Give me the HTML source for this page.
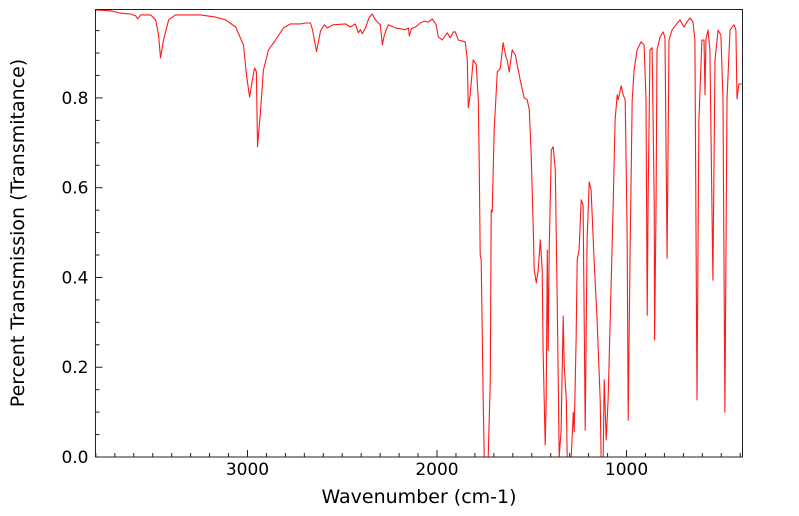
<!DOCTYPE html>
<html><head><meta charset="utf-8"><style>
body{margin:0;background:#fff;}
svg{display:block;font-family:"DejaVu Sans","Liberation Sans",sans-serif;}
</style></head><body>
<svg id="chart" width="799" height="516" viewBox="0 0 799 516">
<g id="ticks"></g>
<clipPath id="clip"><rect x="95.5" y="9.5" width="647" height="447.5"/></clipPath>
<polyline id="spectrum" fill="none" stroke="#ff1a1a" stroke-width="1.1" stroke-linejoin="round" clip-path="url(#clip)"/>
<rect x="95.5" y="9.5" width="647" height="447.5" fill="none" stroke="#222" stroke-width="1"/>
<text x="419" y="503" font-size="19" text-anchor="middle">Wavenumber (cm-1)</text>
<text transform="translate(24,233) rotate(-90)" font-size="19" text-anchor="middle">Percent Transmission (Transmitance)</text>
</svg>
<script>
const wavenumbers=[3801,3722,3670,3617,3590,3580,3564,3511,3485,3469,3459,3443,3416,3380,3248,3169,3116,3063,3021,3005,2989,2974,2963,2953,2947,2931,2916,2889,2852,2810,2773,2721,2694,2668,2657,2636,2615,2594,2579,2547,2483,2457,2431,2415,2404,2394,2378,2357,2341,2331,2315,2299,2288,2278,2257,2220,2167,2151,2146,2135,2114,2088,2067,2046,2025,2004,1993,1972,1946,1930,1914,1903,1888,1851,1840,1835,1825,1814,1809,1793,1782,1777,1772,1767,1756,1751,1730,1719,1714,1709,1698,1682,1666,1651,1635,1630,1619,1603,1587,1561,1540,1524,1513,1503,1492,1487,1476,1466,1455,1445,1440,1429,1424,1418,1413,1408,1397,1387,1376,1366,1355,1345,1334,1329,1318,1313,1292,1281,1276,1266,1260,1250,1239,1229,1223,1218,1208,1197,1187,1171,1155,1139,1134,1123,1118,1107,1097,1086,1070,1060,1049,1044,1028,1018,1007,997,991,981,970,960,944,923,907,897,891,886,876,865,854,852,844,839,823,807,797,786,776,760,739,718,697,681,665,649,639,628,618,602,591,586,581,570,560,544,533,517,502,491,481,470,454,433,423,417,407,391];
const transmittance=[0.996,0.994,0.989,0.987,0.983,0.976,0.985,0.985,0.974,0.940,0.889,0.929,0.974,0.985,0.985,0.980,0.974,0.958,0.918,0.851,0.802,0.840,0.867,0.858,0.691,0.773,0.862,0.907,0.929,0.956,0.965,0.965,0.967,0.967,0.952,0.903,0.949,0.963,0.956,0.963,0.965,0.958,0.965,0.945,0.952,0.943,0.956,0.980,0.987,0.978,0.969,0.963,0.918,0.940,0.963,0.956,0.952,0.956,0.938,0.954,0.958,0.967,0.971,0.969,0.976,0.963,0.936,0.929,0.945,0.934,0.947,0.947,0.929,0.925,0.885,0.778,0.807,0.862,0.885,0.874,0.796,0.640,0.450,0.439,0.127,0,0,0.172,0.550,0.546,0.729,0.858,0.866,0.923,0.889,0.885,0.858,0.907,0.896,0.840,0.800,0.796,0.773,0.673,0.506,0.417,0.388,0.417,0.484,0.417,0.238,0.027,0.127,0.461,0.238,0.461,0.684,0.691,0.640,0.350,0,0.060,0.314,0.205,0.127,0,0,0.100,0.056,0.261,0.439,0.461,0.573,0.561,0.283,0.060,0.484,0.613,0.595,0.439,0.305,0.127,0,0,0.172,0.038,0.127,0.305,0.573,0.751,0.807,0.796,0.827,0.807,0.796,0.506,0.082,0.461,0.796,0.862,0.907,0.925,0.918,0.796,0.316,0.573,0.907,0.912,0.573,0.261,0.573,0.907,0.936,0.947,0.934,0.443,0.929,0.951,0.963,0.974,0.958,0.969,0.978,0.969,0.929,0.127,0.751,0.929,0.929,0.807,0.929,0.951,0.907,0.394,0.885,0.951,0.940,0.796,0.100,0.796,0.951,0.963,0.951,0.798,0.831,0.831];
const xTickLabels=[3000,2000,1000];
const yTickLabels=[0.0,0.2,0.4,0.6,0.8];

const X0=95.5,X1=742.5,Y0=457,Y1=9.5;
const WMAX=3802,WMIN=388,TMIN=0,TMAX=0.997;
function xs(w){return X0+(WMAX-w)/(WMAX-WMIN)*(X1-X0);}
function ys(t){return Y0-(t-TMIN)/(TMAX-TMIN)*(Y0-Y1);}

const ns="http://www.w3.org/2000/svg";
const line=document.getElementById('spectrum');
line.setAttribute('points',wavenumbers.map((w,i)=>xs(w).toFixed(1)+','+ys(transmittance[i]).toFixed(1)).join(' '));
const g=document.getElementById('ticks');
function mk(tag,attrs){const e=document.createElementNS(ns,tag);for(const k in attrs)e.setAttribute(k,attrs[k]);g.appendChild(e);return e;}
for(let w=400;w<=3800;w+=100){
  const x=xs(w);const major=w%1000===0;
  const t=mk('line',{x1:x,x2:x,y1:Y0,y2:Y0-(major?7:4),stroke:'#222','stroke-width':1});
  
  
}
xTickLabels.forEach(w=>{
  const t=mk('text',{x:xs(w),y:Y0+18,'font-size':17,'text-anchor':'middle'});
  t.textContent=w;
  
  
});
for(let k=0;k<=19;k++){
  const v=k*0.05;const y=ys(v);const major=k%4===0;
  const t=mk('line',{x1:X0,x2:X0+(major?7:4),y1:y,y2:y,stroke:'#222','stroke-width':1});
  
  
}
yTickLabels.forEach(v=>{
  const t=mk('text',{x:X0-7,y:ys(v)+6,'font-size':17,'text-anchor':'end'});
  t.textContent=v.toFixed(1);
  
  
});
</script>
</body></html>
